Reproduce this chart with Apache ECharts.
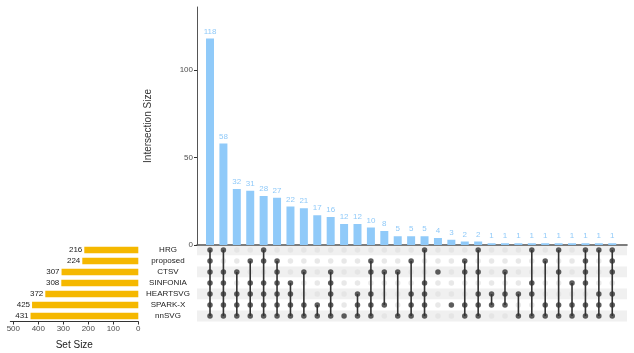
<!DOCTYPE html>
<html>
<head>
<meta charset="utf-8">
<script src="https://cdn.jsdelivr.net/npm/echarts@6/dist/echarts.min.js"></script>
<style>html,body{margin:0;padding:0;background:#fff}#c{width:634px;height:353px}</style>
</head>
<body>
<div id="c"></div>
<script>
const sets = ['HRG','proposed','CTSV','SINFONIA','HEARTSVG','SPARK-X','nnSVG'];
const setSizes = [216,224,307,308,372,425,431];
const intersectionSizes = [118,58,32,31,28,27,22,21,17,16,12,12,10,8,5,5,5,4,3,2,2,1,1,1,1,1,1,1,1,1,1];
const intersectionMembers = [
  ['HRG','proposed','CTSV','SINFONIA','HEARTSVG','SPARK-X','nnSVG'],
  ['HRG','CTSV','SINFONIA','HEARTSVG','SPARK-X','nnSVG'],
  ['CTSV','HEARTSVG','SPARK-X','nnSVG'],
  ['proposed','SINFONIA','HEARTSVG','SPARK-X','nnSVG'],
  ['HRG','proposed','SINFONIA','HEARTSVG','SPARK-X','nnSVG'],
  ['proposed','CTSV','SINFONIA','HEARTSVG','SPARK-X','nnSVG'],
  ['SINFONIA','HEARTSVG','SPARK-X','nnSVG'],
  ['CTSV','SPARK-X','nnSVG'],
  ['SPARK-X','nnSVG'],
  ['CTSV','SINFONIA','HEARTSVG','SPARK-X','nnSVG'],
  ['nnSVG'],
  ['HEARTSVG','SPARK-X','nnSVG'],
  ['proposed','CTSV','HEARTSVG','SPARK-X','nnSVG'],
  ['CTSV','SPARK-X'],
  ['CTSV','nnSVG'],
  ['proposed','HEARTSVG','SPARK-X','nnSVG'],
  ['HRG','SINFONIA','HEARTSVG','SPARK-X','nnSVG'],
  ['CTSV'],
  ['SPARK-X'],
  ['proposed','CTSV','SPARK-X','nnSVG'],
  ['HRG','CTSV','HEARTSVG','SPARK-X','nnSVG'],
  ['HEARTSVG','SPARK-X'],
  ['CTSV','HEARTSVG','SPARK-X'],
  ['HEARTSVG','nnSVG'],
  ['HRG','SINFONIA','HEARTSVG','nnSVG'],
  ['proposed','SPARK-X','nnSVG'],
  ['HRG','CTSV','SPARK-X','nnSVG'],
  ['SINFONIA','SPARK-X','nnSVG'],
  ['HRG','proposed','CTSV','SINFONIA','SPARK-X','nnSVG'],
  ['HRG','HEARTSVG','SPARK-X','nnSVG'],
  ['HRG','proposed','CTSV','HEARTSVG','SPARK-X','nnSVG']
];
const yTicks = [0,50,100];
const setSizeTicks = [0,100,200,300,400,500];

const FONT = '"Liberation Sans", Arial, sans-serif';
const barData = intersectionSizes.map((v,i)=>[i+1, v]);
const inactive = [], active = [], segs = [];
intersectionMembers.forEach((m,i)=>{
  const idx = m.map(s=>sets.indexOf(s));
  sets.forEach((s,j)=>{ if(idx.indexOf(j)<0) inactive.push([i+1,j]); else active.push([i+1,j]); });
  segs.push([i+1, Math.min(...idx), Math.max(...idx)]);
});

const chart = echarts.init(document.getElementById('c'), null, {renderer:'canvas'});
const xMin = 0.03, xMax = 32.1;
chart.setOption({
  animation:false,
  textStyle:{fontFamily:FONT},
  grid:[
    {left:197, top:7, width:430, height:238},
    {left:197, top:244.5, width:430, height:77},
    {left:10.3, top:244.5, width:128, height:77}
  ],
  xAxis:[
    {gridIndex:0, type:'value', min:xMin, max:xMax, axisLabel:{show:false}, axisTick:{show:false}, splitLine:{show:false},
     axisLine:{show:true, onZero:false, lineStyle:{color:'#555', width:1.6}}},
    {gridIndex:1, type:'value', min:xMin, max:xMax, show:false},
    {gridIndex:2, type:'value', min:0, max:512, inverse:true, splitLine:{show:false},
     axisLine:{show:true, lineStyle:{color:'#333', width:1}},
     axisTick:{show:true, length:3, lineStyle:{color:'#333'}, customValues:setSizeTicks},
     axisLabel:{fontSize:8, color:'#4d4d4d', margin:3, customValues:setSizeTicks},
     name:'Set Size', nameLocation:'middle', nameGap:19, nameTextStyle:{fontSize:10, color:'#222', fontFamily:FONT}}
  ],
  yAxis:[
    {gridIndex:0, type:'value', min:0, max:136, splitLine:{show:false},
     axisLine:{show:true, lineStyle:{color:'#555', width:1}},
     axisTick:{show:true, length:3, lineStyle:{color:'#333'}, customValues:yTicks},
     axisLabel:{fontSize:8, color:'#4d4d4d', margin:4, customValues:yTicks},
     name:'Intersection Size', nameLocation:'middle', nameGap:44, nameRotate:90,
     nameTextStyle:{fontSize:10, color:'#333', fontFamily:FONT}},
    {gridIndex:1, type:'category', data:sets, inverse:true,
     axisLine:{show:false}, axisTick:{show:false},
     axisLabel:{fontSize:8, color:'#222', align:'center', margin:29},
     splitArea:{show:true, areaStyle:{color:['#f0f0f0','#ffffff']}}},
    {gridIndex:2, type:'category', data:sets, inverse:true, show:false}
  ],
  series:[
    {type:'bar', xAxisIndex:0, yAxisIndex:0, data:barData, barWidth:8,
     itemStyle:{color:'#90CAF9'},
     label:{show:true, position:'top', distance:3, fontSize:8, color:'#90CAF9', fontFamily:FONT}},
    {type:'scatter', xAxisIndex:1, yAxisIndex:1, data:inactive, symbolSize:5.5, itemStyle:{color:'#e2e2e2'}, z:2, silent:true},
    {type:'custom', xAxisIndex:1, yAxisIndex:1, data:segs, z:3, encode:{x:0, y:[1,2]},
     renderItem:function(params, api){
       const p1 = api.coord([api.value(0), api.value(1)]);
       const p2 = api.coord([api.value(0), api.value(2)]);
       return {type:'line', shape:{x1:p1[0], y1:p1[1], x2:p2[0], y2:p2[1]}, style:{stroke:'#333', lineWidth:1.6}};
     }},
    {type:'scatter', xAxisIndex:1, yAxisIndex:1, data:active, symbolSize:5.5, itemStyle:{color:'#333'}, z:4, silent:true},
    {type:'bar', xAxisIndex:2, yAxisIndex:2, data:setSizes, barWidth:6.5,
     itemStyle:{color:'#F5B800'},
     label:{show:true, position:'left', distance:2, fontSize:8, color:'#222', fontFamily:FONT}}
  ]
});
</script>
</body>
</html>
